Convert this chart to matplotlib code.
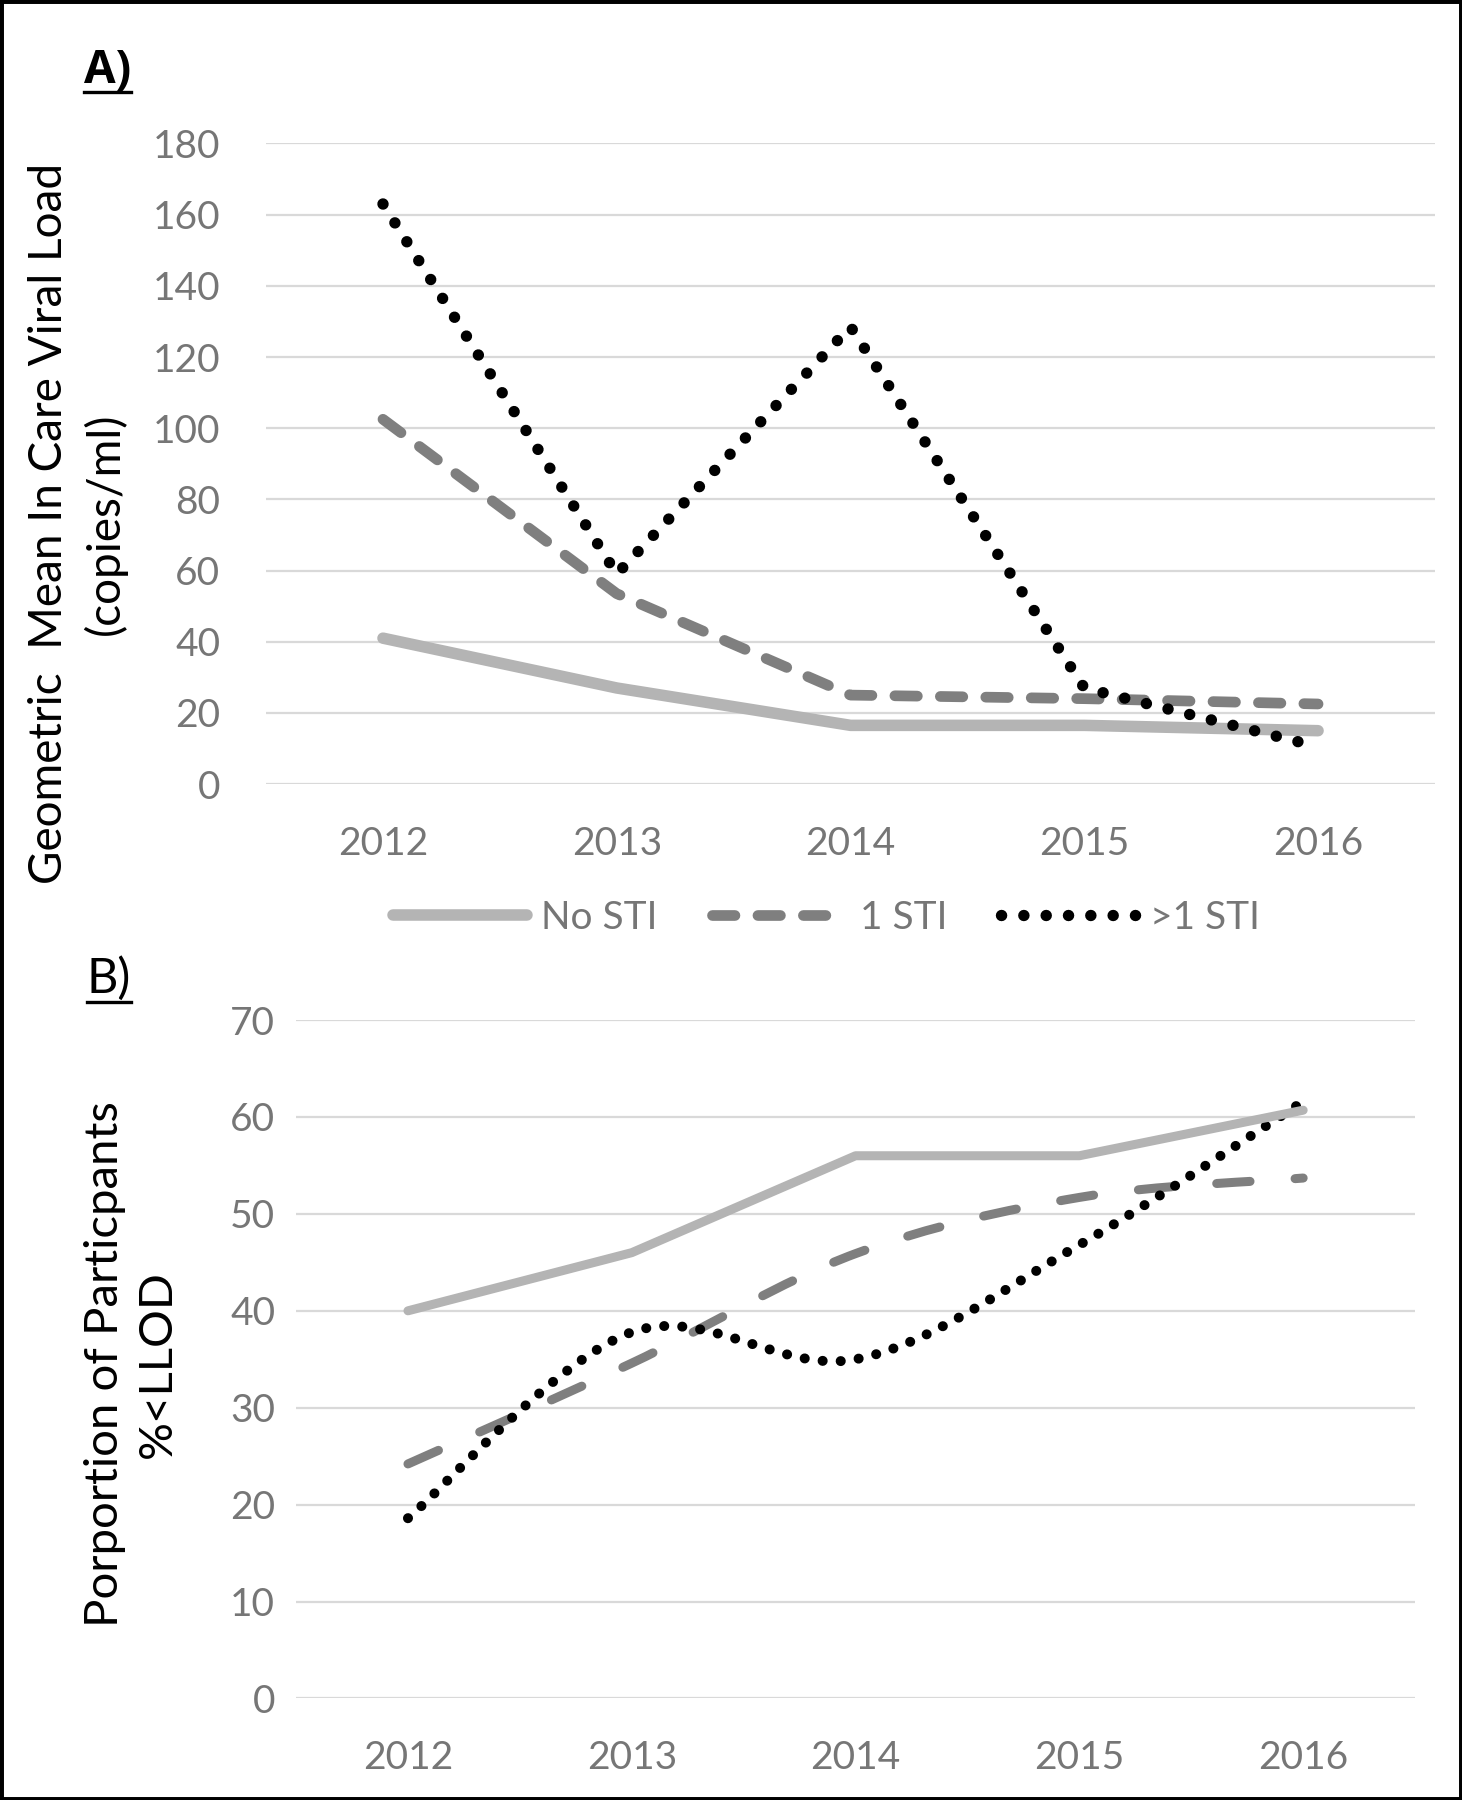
import numpy as np
import matplotlib.pyplot as plt
from matplotlib.path import Path
from matplotlib.patches import PathPatch, Rectangle
from matplotlib.lines import Line2D

plt.rcParams['font.family'] = ['Lato', 'DejaVu Sans']

years = ['2012', '2013', '2014', '2015', '2016']
series_names = ['No STI', '1 STI', '>1 STI']

# A) geometric mean in-care viral load (copies/ml)
vl_no_sti = [41, 27, 16.5, 16.5, 15]
vl_one_sti = [102.5, 53.5, 25, 24, 22.5]
vl_multi_sti = [163, 59, 128.5, 27, 10.5]

# B) proportion of participants below LLOD (%)
llod_no_sti = [40, 46, 56, 56, 60.7]
llod_one_sti = [24.2, 34.6, 45.9, 51.7, 53.7]
llod_multi_sti = [18.6, 37.8, 35, 46.8, 61.6]

GREY_LIGHT = '#b4b4b4'
GREY_DARK = '#7f7f7f'
TICK_GREY = '#767676'
GRID = '#d9d9d9'


def smooth_path(xs, ys):
    # excel-style smoothed line: catmull-rom turned into cubic beziers
    pts = np.column_stack([xs, ys]).astype(float)
    n = len(pts)
    verts = [pts[0]]
    codes = [Path.MOVETO]
    for i in range(n - 1):
        p0 = pts[max(i - 1, 0)]
        p1 = pts[i]
        p2 = pts[i + 1]
        p3 = pts[min(i + 2, n - 1)]
        verts += [p1 + (p2 - p0) / 6, p2 - (p3 - p1) / 6, p2]
        codes += [Path.CURVE4] * 3
    return Path(verts, codes)


def style_axes(ax, ymax, step, pad_y):
    ax.set_xlim(-0.5, 4.5)
    ax.set_ylim(0, ymax)
    ax.set_xticks(range(len(years)))
    ax.set_xticklabels(years)
    ax.set_yticks(range(0, ymax + 1, step))
    ax.yaxis.grid(True, color=GRID, lw=1.6)
    ax.set_axisbelow(True)
    for s in ax.spines.values():
        s.set_visible(False)
    ax.tick_params(axis='y', length=0, pad=pad_y, labelsize=28, labelcolor=TICK_GREY)
    ax.tick_params(axis='x', length=0, pad=30, labelsize=28, labelcolor=TICK_GREY)


fig = plt.figure(figsize=(14.62, 18), dpi=100)
x = np.arange(len(years))

# ---- panel A ----
axA = fig.add_axes([0.182, 0.5644, 0.7995, 0.3559])
style_axes(axA, 180, 20, 33)
l1, = axA.plot(x, vl_no_sti, color=GREY_LIGHT, lw=8.3, solid_capstyle='round',
               solid_joinstyle='round', clip_on=False)
l2, = axA.plot(x, vl_one_sti, color=GREY_DARK, lw=7.7, linestyle=(0, (2.1, 2.15)),
               dash_capstyle='round', clip_on=False)
l3, = axA.plot(x, vl_multi_sti, color='black', lw=8.2, linestyle=(0, (0.01, 1.95)),
               dash_capstyle='round', clip_on=False)

# ---- panel B ----
axB = fig.add_axes([0.2025, 0.0564, 0.7654, 0.3769])
style_axes(axB, 70, 10, 15)
axB.plot(x, llod_no_sti, color=GREY_LIGHT, lw=6.5, solid_capstyle='round',
         solid_joinstyle='round', clip_on=False)
p_one = PathPatch(smooth_path(x, llod_one_sti), fill=False, ec=GREY_DARK, lw=6.5,
                  linestyle=(0, (3.7, 5.0)), capstyle='round', clip_on=False)
p_multi = PathPatch(smooth_path(x, llod_multi_sti), fill=False, ec='black', lw=7.2,
                    linestyle=(0, (0.01, 1.8)), capstyle='round', clip_on=False)
axB.add_patch(p_one)
axB.add_patch(p_multi)

# axis titles
fig.text(0.053, 0.709, 'Geometric  Mean In Care Viral Load\n(copies/ml)', rotation=90,
         ha='center', va='center', multialignment='center', fontsize=33, linespacing=1.33)
fig.text(0.090, 0.2422, 'Porportion of Particpants\n%<LLOD', rotation=90,
         ha='center', va='center', multialignment='center', fontsize=34, linespacing=1.3)

# legend between the panels
fig.legend([l1, l2, l3], series_names, loc='center', bbox_to_anchor=(0.565, 0.49),
           ncol=3, frameon=False, fontsize=28, handlelength=3.45, handletextpad=0.36,
           columnspacing=1.4, labelcolor=TICK_GREY)

# panel letters with underline
H = 1800.0
tA = fig.text(0.0575, 1 - 83 / H, 'A)', fontsize=33, fontweight='bold', va='baseline',
              family=['Open Sans', 'DejaVu Sans'])
tB = fig.text(0.0595, 1 - 993 / H, 'B)', fontsize=35, va='baseline')
fig.canvas.draw()
inv = fig.transFigure.inverted()
for t, base in ((tA, 83), (tB, 993)):
    bb = t.get_window_extent()
    (x0, _), (x1, _) = inv.transform([[bb.x0, bb.y0], [bb.x1, bb.y1]])
    yu = 1 - (base + 9) / H
    fig.add_artist(Line2D([x0, x1], [yu, yu], color='black', lw=2.4,
                          transform=fig.transFigure))

# outer frame
fig.add_artist(Rectangle((0, 0), 1, 1, transform=fig.transFigure, fill=False,
                         ec='black', lw=5))

fig.savefig('out.png', dpi=100)
